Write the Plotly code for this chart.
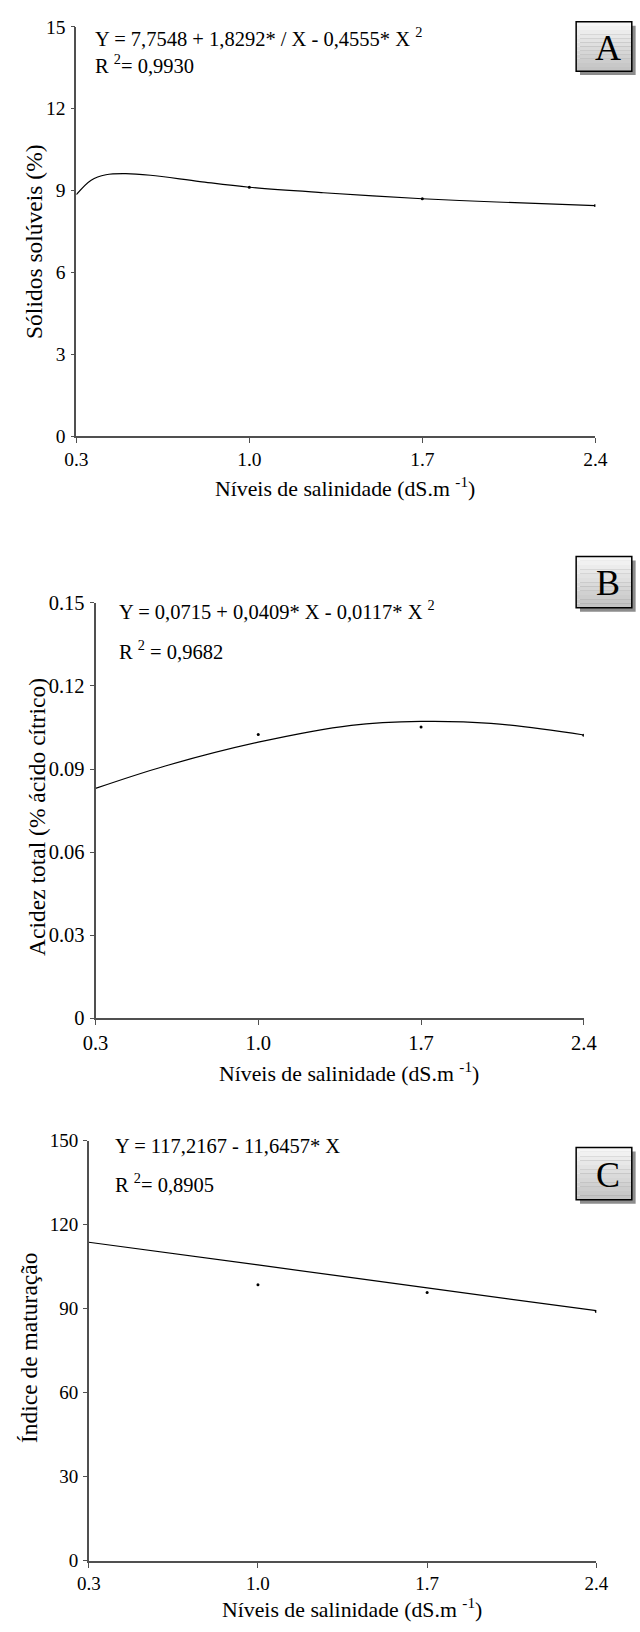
import plotly.graph_objects as go

W, H = 640, 1632
FONT = "Times New Roman, Liberation Serif, serif"

# ---------------- data ----------------
x_ticks = [0.3, 1.0, 1.7, 2.4]
x_ticktext = ["0.3", "1.0", "1.7", "2.4"]

# Panel A - Sólidos solúveis (%)
a_curve_x = [0.3, 0.36, 0.42, 0.5, 0.6, 0.8, 1.0, 1.3, 1.7, 2.0, 2.4]
a_curve_y = [8.85, 9.38, 9.58, 9.62, 9.56, 9.33, 9.12, 8.92, 8.7, 8.58, 8.45]
a_pts_x = [1.0, 1.7, 2.4]
a_pts_y = [9.12, 8.7, 8.45]
a_yticks = [0, 3, 6, 9, 12, 15]
a_ytext = ["0", "3", "6", "9", "12", "15"]

# Panel B - Acidez total
b_curve_x = [0.3, 0.6, 1.0, 1.4, 1.7, 2.0, 2.4]
b_curve_y = [0.0830, 0.0911, 0.0997, 0.1058, 0.1072, 0.1065, 0.1023]
b_pts_x = [1.0, 1.7, 2.4]
b_pts_y = [0.1025, 0.1052, 0.1022]
b_yticks = [0, 0.03, 0.06, 0.09, 0.12, 0.15]
b_ytext = ["0", "0.03", "0.06", "0.09", "0.12", "0.15"]

# Panel C - Índice de maturação
c_curve_x = [0.3, 1.0, 1.7, 2.4]
c_curve_y = [113.7, 105.6, 97.4, 89.3]
c_pts_x = [1.0, 1.7, 2.4]
c_pts_y = [98.5, 95.8, 89.0]
c_yticks = [0, 30, 60, 90, 120, 150]
c_ytext = ["0", "30", "60", "90", "120", "150"]

panels = [
    dict(name="A", cx=a_curve_x, cy=a_curve_y, px=a_pts_x, py=a_pts_y,
         yt=a_yticks, ytt=a_ytext, yr=[0, 15], tfs=19.5,
         xpx=(66, 607), ypx=(16, 431),
         eq="Y = 7,7548 + 1,8292* / X - 0,4555* X <sup>2</sup>", r2="R <sup>2</sup>= 0,9930",
         eqx=83, eqy=26, r2y=54,
         ytitle="Sólidos solúveis (%)", ytx=22, yty=234, xty=482,
         box=(587, 11, 645, 61)),
    dict(name="B", cx=b_curve_x, cy=b_curve_y, px=b_pts_x, py=b_pts_y,
         yt=b_yticks, ytt=b_ytext, yr=[0, 0.15], tfs=20.5,
         xpx=(86, 595), ypx=(600, 1021),
         eq="Y = 0,0715 + 0,0409* X - 0,0117* X <sup>2</sup>", r2="R <sup>2</sup> = 0,9682",
         eqx=108, eqy=607, r2y=648,
         ytitle="Acidez total (% ácido cítrico)", ytx=25, yty=817, xty=1076,
         box=(587, 553, 645, 605)),
    dict(name="C", cx=c_curve_x, cy=c_curve_y, px=c_pts_x, py=c_pts_y,
         yt=c_yticks, ytt=c_ytext, yr=[0, 150], tfs=19,
         xpx=(79, 608), ypx=(1145, 1571),
         eq="Y = 117,2167 - 11,6457* X", r2="R <sup>2</sup>= 0,8905",
         eqx=104, eqy=1151, r2y=1188,
         ytitle="Índice de maturação", ytx=16, yty=1355, xty=1619,
         box=(587, 1152, 645, 1205)),
]

fig = go.Figure()
annotations = []
shapes = []

def px_x(p):
    return p / W

def px_y(p):
    return 1 - p / H

for i, p in enumerate(panels):
    n = "" if i == 0 else str(i + 1)
    xa, ya = "x" + n, "y" + n
    fig.add_trace(go.Scatter(x=p["cx"], y=p["cy"], mode="lines",
                             line=dict(color="black", width=1.2, shape="spline", smoothing=1.0),
                             xaxis=xa, yaxis=ya, showlegend=False, hoverinfo="skip"))
    fig.add_trace(go.Scatter(x=p["px"], y=p["py"], mode="markers",
                             marker=dict(color="black", size=3),
                             xaxis=xa, yaxis=ya, showlegend=False, hoverinfo="skip"))
    axis_common = dict(showline=True, linecolor="#505050", linewidth=1.6,
                       ticks="outside", ticklen=5, tickcolor="#505050", tickwidth=1.2,
                       showgrid=False, zeroline=False,
                       tickfont=dict(family=FONT, size=p["tfs"], color="black"))
    fig.update_layout(**{
        "xaxis" + n: dict(axis_common, domain=[px_x(p["xpx"][0]), px_x(p["xpx"][1])],
                          range=[0.3, 2.4], tickvals=x_ticks, ticktext=x_ticktext,
                          anchor=ya, fixedrange=True, ticklen=5),
        "yaxis" + n: dict(axis_common, domain=[px_y(p["ypx"][1]), px_y(p["ypx"][0])],
                          range=p["yr"], tickvals=p["yt"], ticktext=p["ytt"],
                          anchor=xa, fixedrange=True, ticklen=4, ticklabelstandoff=1),
    })
    # equation texts
    annotations.append(dict(xref="paper", yref="paper", x=px_x(p["eqx"]), y=px_y(p["eqy"]),
                            xanchor="left", yanchor="middle", showarrow=False, text=p["eq"],
                            font=dict(family=FONT, size=20.5, color="black")))
    annotations.append(dict(xref="paper", yref="paper", x=px_x(p["eqx"]), y=px_y(p["r2y"]),
                            xanchor="left", yanchor="middle", showarrow=False, text=p["r2"],
                            font=dict(family=FONT, size=20.5, color="black")))
    # axis titles
    annotations.append(dict(xref="paper", yref="paper", x=px_x(p["ytx"]), y=px_y(p["yty"]),
                            xanchor="center", yanchor="middle", showarrow=False,
                            text=p["ytitle"], textangle=-90,
                            font=dict(family=FONT, size=23.5, color="black")))
    xc = (p["xpx"][0] + p["xpx"][1]) / 2 + 10
    annotations.append(dict(xref="paper", yref="paper", x=px_x(xc), y=px_y(p["xty"]),
                            xanchor="center", yanchor="middle", showarrow=False,
                            text="Níveis de salinidade (dS.m <sup>-1</sup>)",
                            font=dict(family=FONT, size=21.8, color="black")))
    # label box with shadow and gradient
    bx0, by0, bx1, by1 = p["box"]
    shapes.append(dict(type="rect", xref="paper", yref="paper",
                       x0=px_x(bx0 + 4), x1=px_x(bx1 + 4), y0=px_y(by1 + 4), y1=px_y(by0 + 4),
                       line=dict(width=0), fillcolor="#8c8c8c", layer="below"))
    nstrip = 12
    for k in range(nstrip):
        g = int(246 - (246 - 196) * k / (nstrip - 1))
        sy0 = by0 + (by1 - by0) * k / nstrip
        sy1 = by0 + (by1 - by0) * (k + 1) / nstrip
        shapes.append(dict(type="rect", xref="paper", yref="paper",
                           x0=px_x(bx0), x1=px_x(bx1), y0=px_y(sy1), y1=px_y(sy0),
                           line=dict(width=0), fillcolor=f"rgb({g},{g},{g})", layer="below"))
    shapes.append(dict(type="rect", xref="paper", yref="paper",
                       x0=px_x(bx0), x1=px_x(bx1), y0=px_y(by1), y1=px_y(by0),
                       line=dict(color="black", width=1.5), fillcolor="rgba(0,0,0,0)", layer="below"))
    annotations.append(dict(xref="paper", yref="paper", x=px_x(bx0 + 33), y=px_y((by0 + by1) / 2 + 1),
                            xanchor="center", yanchor="middle", showarrow=False, text=p["name"],
                            font=dict(family=FONT, size=36, color="black")))

fig.update_layout(width=W, height=H, margin=dict(l=0, r=0, t=0, b=0),
                  paper_bgcolor="white", plot_bgcolor="white",
                  annotations=annotations, shapes=shapes, showlegend=False)

fig.write_html("out.html", config={"displayModeBar": False},
               post_script="document.body.style.margin='0';document.body.style.overflow='hidden';")
